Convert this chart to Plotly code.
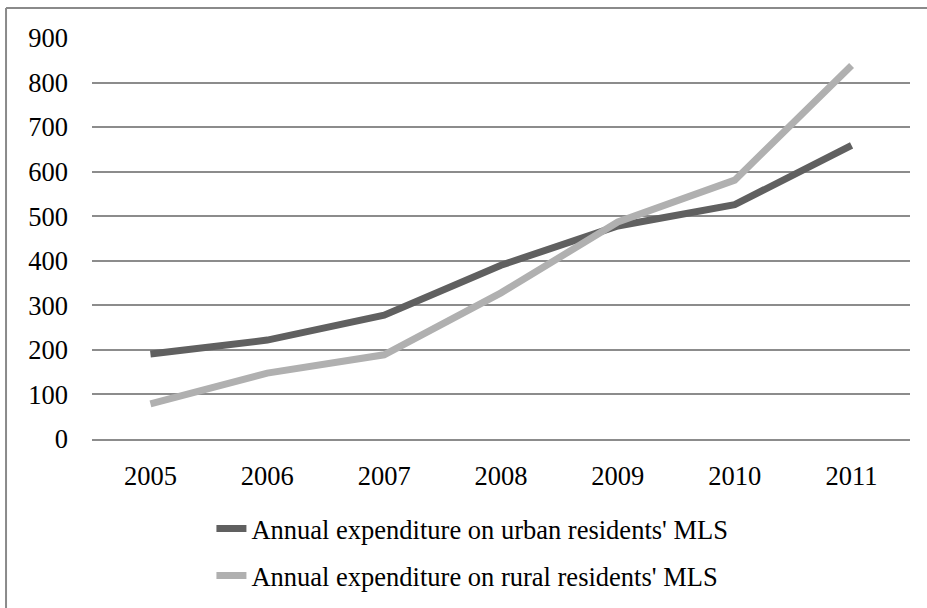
import plotly.graph_objects as go

years = ["2005", "2006", "2007", "2008", "2009", "2010", "2011"]
urban_mls = [191, 222, 278, 390, 478, 526, 659]
rural_mls = [79, 148, 189, 328, 487, 581, 838]
y_ticks = [0, 100, 200, 300, 400, 500, 600, 700, 800, 900]

urban_name = "Annual expenditure on urban residents' MLS"
rural_name = "Annual expenditure on rural residents' MLS"

FONT = "Liberation Serif"
GRID = "#8c8c8c"

fig = go.Figure()
fig.add_trace(go.Scatter(
    x=years, y=urban_mls, mode="lines", name=urban_name,
    line=dict(color="#606060", width=7), legend="legend",
))
fig.add_trace(go.Scatter(
    x=years, y=rural_mls, mode="lines", name=rural_name,
    line=dict(color="#b0b0b0", width=7), legend="legend2",
))

legend_common = dict(
    xanchor="left", yanchor="middle", x=0.146,
    font=dict(family=FONT, size=26.5, color="#000000"),
    bgcolor="rgba(0,0,0,0)", borderwidth=0, itemwidth=30,
)

fig.update_layout(
    width=927, height=608,
    margin=dict(l=92, r=17, t=38, b=169, autoexpand=False),
    paper_bgcolor="white", plot_bgcolor="white",
    font=dict(family=FONT, size=26.5, color="#000000"),
    showlegend=True,
    legend=dict(legend_common, y=-0.224),
    legend2=dict(legend_common, y=-0.341),
    xaxis=dict(
        type="category", range=[-0.5, 6.5],
        showgrid=False, zeroline=False,
        showline=True, linecolor=GRID, linewidth=1.5,
        ticks="", ticklabelstandoff=12,
        tickfont=dict(family=FONT, size=26.5, color="#000000"),
    ),
    yaxis=dict(
        range=[0, 900], tickvals=y_ticks,
        showgrid=True, gridcolor=GRID, gridwidth=1.5,
        zeroline=False, showline=False,
        ticks="", ticklabelstandoff=23,
        tickfont=dict(family=FONT, size=26.5, color="#000000"),
    ),
    shapes=[
        # chart-area frame: left and top edges
        dict(type="line", xref="paper", yref="paper",
             x0=-0.1051, x1=-0.1051, y0=1.0748, y1=-0.45,
             line=dict(color="#8a8a8a", width=2)),
        dict(type="line", xref="paper", yref="paper",
             x0=-0.1051, x1=1.03, y0=1.0748, y1=1.0748,
             line=dict(color="#8a8a8a", width=2)),
    ],
)

fig.write_html("out.html")
